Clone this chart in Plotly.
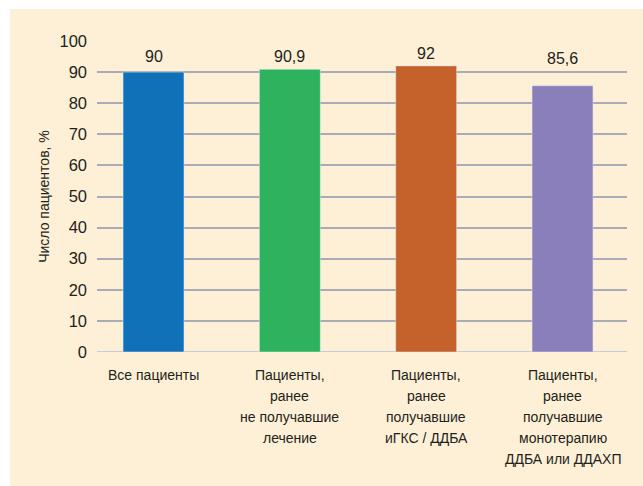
import plotly.graph_objects as go

categories = [
    "Все пациенты",
    "Пациенты,<br>ранее<br>не получавшие<br>лечение",
    "Пациенты,<br>ранее<br>получавшие<br>иГКС / ДДБА",
    "Пациенты,<br>ранее<br>получавшие<br>монотерапию<br>ДДБА или ДДАХП",
]
values = [90, 90.9, 92, 85.6]
value_labels = ["90", "90,9", "92", "85,6"]
colors = ["#1071B9", "#2EB25E", "#C5612A", "#8A7EBB"]
y_ticks = [0, 10, 20, 30, 40, 50, 60, 70, 80, 90, 100]

# style: pixel gap between bar top and value-label centre (as in the original layout)
label_gaps = [16, 13, 12, 27]

W, H = 643, 486
ML, MR, MT, MB = 97, 16, 41, 134
FONT = "Liberation Sans, Arial, sans-serif"
TXT = "#231F20"

xs = list(range(len(categories)))

fig = go.Figure()
fig.add_trace(go.Bar(
    x=xs, y=values, marker_color=colors, width=0.447,
    hoverinfo="skip",
))

annotations = []
for i, (v, lab) in enumerate(zip(values, value_labels)):
    annotations.append(dict(
        x=i, y=v, xref="x", yref="y", text=lab, showarrow=False,
        yanchor="middle", xanchor="center", yshift=label_gaps[i],
        font=dict(family=FONT, size=16, color=TXT),
    ))
for i, cat in enumerate(categories):
    for k, line in enumerate(cat.split("<br>")):
        annotations.append(dict(
            x=i, y=0, xref="x", yref="y", text=line, showarrow=False,
            yanchor="middle", xanchor="center", yshift=-(23 + 21 * k),
            font=dict(family=FONT, size=14, color=TXT),
        ))

fig.update_layout(
    width=W, height=H,
    margin=dict(l=ML, r=MR, t=MT, b=MB, pad=0),
    paper_bgcolor="white",
    plot_bgcolor="rgba(0,0,0,0)",
    showlegend=False,
    font=dict(family=FONT, color=TXT),
    annotations=annotations,
    xaxis=dict(
        range=[-0.4145, 3.473], tickvals=xs, showticklabels=False,
        showgrid=False, zeroline=False, showline=False, ticks="",
    ),
    yaxis=dict(
        range=[0, 100], tickmode="array", tickvals=y_ticks,
        showgrid=True, gridcolor="#A9ABB6", gridwidth=1.5,
        zeroline=False, showline=False, ticks="",
        tickfont=dict(size=16.5), ticklabelstandoff=9,
        title=dict(text="Число пациентов, %", font=dict(size=14), standoff=6),
    ),
    shapes=[
        dict(type="rect", xref="paper", yref="paper", layer="below",
             x0=-(ML - 10) / (W - ML - MR), x1=1 + MR / (W - ML - MR),
             y0=-MB / (H - MT - MB), y1=1 + (MT - 9) / (H - MT - MB),
             fillcolor="#FDF0D6", line=dict(width=0)),
        dict(type="line", xref="paper", yref="y", layer="below",
             x0=0, x1=1, y0=0, y1=0, line=dict(color="#C8CCD8", width=2)),
    ],
)

fig.write_html("out.html")
